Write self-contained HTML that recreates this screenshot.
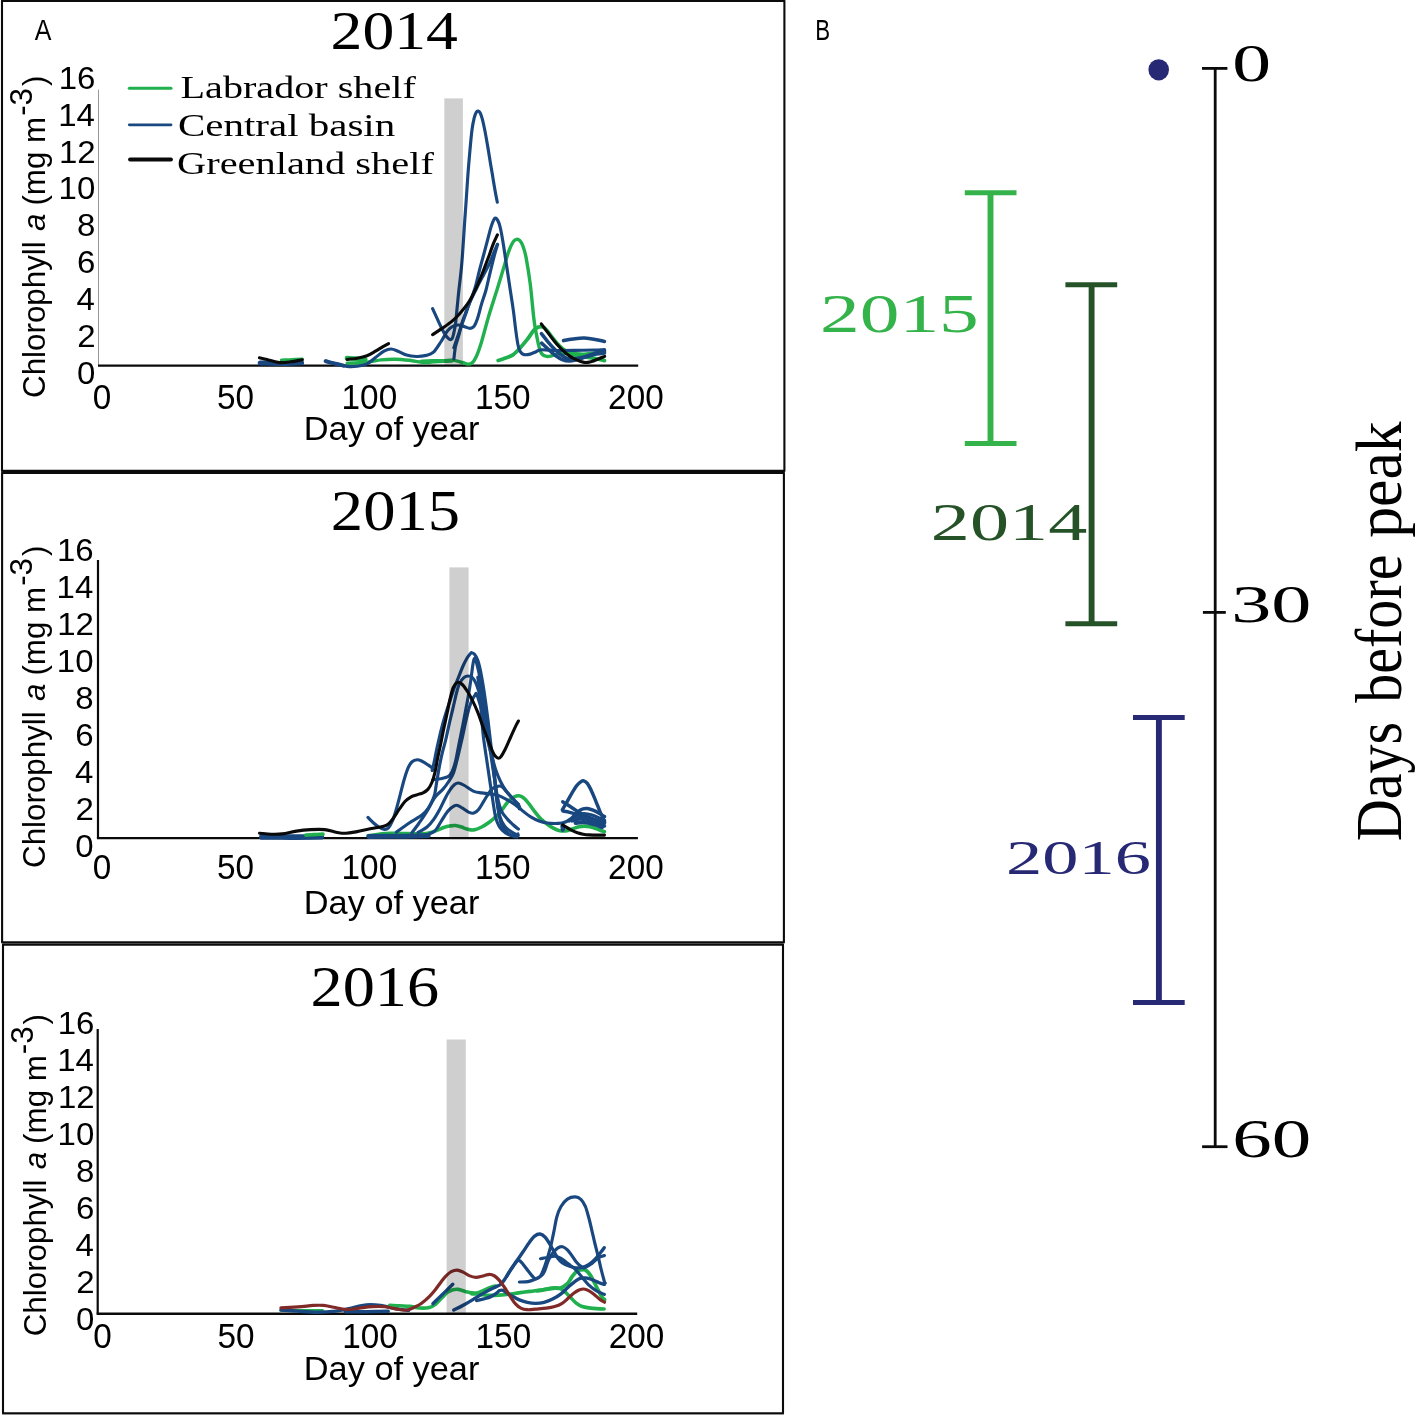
<!DOCTYPE html>
<html><head><meta charset="utf-8"><title>Figure</title>
<style>
html,body{margin:0;padding:0;background:#fff;}
body{width:1417px;height:1415px;overflow:hidden;font-family:"Liberation Sans",sans-serif;}
svg{display:block;position:absolute;left:0;top:0;will-change:transform;}
</style></head><body>
<svg width="1417" height="1415" viewBox="0 0 1417 1415">
<rect x="0" y="0" width="1417" height="1415" fill="#fff"/>
<g fill="none" stroke="#0b0b0b" stroke-width="2.1" stroke-linejoin="round">
<rect x="2.0" y="0.9" width="782.4" height="470.0"/>
<rect x="2.1" y="472.9" width="781.8" height="469.5"/>
<rect x="3.0" y="944.6" width="780.0" height="468.69999999999993"/>
</g>
<rect x="2" y="1414.3" width="782" height="0.7" fill="#808080"/>
<!-- panel 2014 -->
<g>
<line x1="98.5" y1="89.6" x2="98.5" y2="365.6" stroke="#979797" stroke-width="1.0"/>
<line x1="98.0" y1="365.6" x2="638.2" y2="365.6" stroke="#0a0a0a" stroke-width="2.4"/>
<path d="M260.2,362.9C263.5,362.9 273.1,363.4 280.0,363.4C286.9,363.4 298.0,362.8 301.6,362.7" fill="none" stroke="#19477f" stroke-width="5.0" stroke-linecap="round" stroke-linejoin="round"/>
<path d="M281.4,360.1C283.2,360.0 288.5,359.8 292.0,359.6C295.5,359.4 300.6,359.2 302.3,359.1" fill="none" stroke="#21b04e" stroke-width="3.2" stroke-linecap="round" stroke-linejoin="round"/>
<path d="M259.4,357.8C260.9,358.1 264.9,359.1 268.2,359.9C271.5,360.7 275.7,362.3 279.5,362.6C283.3,362.9 287.0,362.3 290.8,361.8C294.6,361.3 300.4,360.1 302.3,359.8" fill="none" stroke="#0a0a0a" stroke-width="3.1" stroke-linecap="round" stroke-linejoin="round"/>
<path d="M346.9,358.1C348.5,358.2 352.9,358.4 356.0,358.6C359.1,358.8 363.7,359.2 365.3,359.3" fill="none" stroke="#21b04e" stroke-width="4.6" stroke-linecap="round" stroke-linejoin="round"/>
<path d="M347.2,363.1C350.5,363.0 361.3,362.7 367.0,362.2C372.7,361.7 376.4,360.4 381.1,359.9C385.8,359.4 390.6,359.1 395.3,359.2C400.0,359.3 404.7,359.8 409.4,360.3C414.1,360.9 419.7,362.2 423.5,362.5C427.3,362.8 428.5,362.1 432.0,361.8C435.5,361.6 440.8,361.2 444.4,361.0C448.0,360.8 450.9,360.1 453.9,360.4C456.9,360.6 460.1,361.9 462.4,362.5C464.7,363.1 466.1,364.0 467.7,364.1C469.3,364.2 470.5,364.3 471.9,363.1C473.3,361.9 474.6,360.2 476.2,356.7C477.8,353.2 479.4,348.8 481.5,341.9C483.6,335.0 486.4,323.7 488.9,315.4C491.4,307.1 493.8,300.1 496.3,292.1C498.8,284.2 501.6,274.6 503.7,267.7C505.8,260.8 507.4,255.0 509.0,250.7C510.6,246.3 512.0,243.5 513.3,241.6C514.5,239.7 515.4,239.5 516.5,239.3C517.6,239.1 518.7,239.4 519.7,240.4C520.7,241.4 521.7,242.7 522.7,245.5C523.8,248.3 524.8,250.8 526.0,257.1C527.2,263.5 528.9,273.4 530.2,283.6C531.5,293.8 532.8,309.8 533.8,318.3C534.8,326.9 535.6,330.0 536.5,334.9C537.4,339.8 538.4,344.5 539.3,347.7C540.2,350.9 540.8,352.7 542.0,354.1C543.2,355.6 545.1,356.1 546.6,356.4C548.1,356.7 549.2,356.4 551.2,356.0C553.2,355.6 555.4,354.2 558.5,353.8C561.6,353.4 565.7,353.3 570.0,353.4C574.3,353.4 579.4,354.3 584.2,354.1C589.0,353.9 595.6,352.7 599.0,352.3C602.4,351.9 603.6,352.0 604.5,351.9" fill="none" stroke="#21b04e" stroke-width="3.4" stroke-linecap="round" stroke-linejoin="round"/>
<path d="M421.6,361.5C423.3,361.5 428.3,361.3 432.0,361.2C435.7,361.1 440.6,361.1 444.0,361.0C447.4,360.9 451.0,360.6 452.4,360.5" fill="none" stroke="#21b04e" stroke-width="4.2" stroke-linecap="round" stroke-linejoin="round"/>
<path d="M498.2,360.5C499.3,360.2 502.3,359.3 504.8,358.3C507.3,357.3 510.6,356.5 513.3,354.6C515.9,352.8 518.4,349.7 520.7,347.2C523.0,344.7 525.1,342.2 527.3,339.4C529.5,336.6 532.0,332.4 533.8,330.3C535.6,328.2 536.6,327.6 538.3,327.1C540.0,326.6 541.9,326.2 543.9,327.5C545.9,328.8 548.2,332.3 550.3,334.9C552.4,337.5 554.7,340.8 556.7,343.1C558.7,345.4 560.1,346.9 562.2,348.6C564.3,350.3 566.6,352.0 569.5,353.2C572.4,354.4 575.9,355.2 579.6,356.0C583.3,356.8 588.1,357.2 591.6,357.8C595.1,358.4 598.6,359.1 600.7,359.6C602.8,360.1 603.8,360.4 604.4,360.6" fill="none" stroke="#21b04e" stroke-width="3.8" stroke-linecap="round" stroke-linejoin="round"/>
<path d="M325.2,361.1C327.0,361.6 332.3,363.0 336.0,363.9C339.7,364.8 343.8,366.0 347.3,366.4C350.8,366.8 353.9,366.6 357.2,366.2C360.5,365.8 363.9,365.3 367.0,363.9C370.1,362.4 372.7,359.6 375.5,357.5C378.3,355.4 381.4,352.6 384.0,351.2C386.6,349.8 388.6,349.0 391.0,349.0C393.4,349.0 395.5,350.2 398.1,351.2C400.7,352.2 403.4,354.2 406.5,355.1C409.6,356.0 413.1,356.4 416.4,356.5C419.7,356.6 423.4,356.1 426.3,355.4C429.2,354.7 431.1,354.4 433.5,352.2C435.9,350.0 438.4,345.6 440.8,342.0C443.2,338.4 445.5,333.3 447.6,330.7C449.7,328.1 451.4,327.1 453.3,326.2C455.2,325.2 457.0,324.9 458.9,325.0C460.8,325.1 462.7,326.1 464.6,326.7C466.5,327.3 468.6,328.5 470.2,328.4C471.8,328.3 473.0,327.9 474.2,326.2C475.4,324.5 476.4,322.0 477.6,318.3C478.8,314.6 480.1,308.8 481.5,304.1C482.9,299.4 484.6,295.2 486.0,290.0C487.4,284.8 488.6,278.7 490.0,273.0C491.4,267.3 492.9,260.8 494.2,256.0C495.5,251.2 497.0,246.4 497.6,244.4" fill="none" stroke="#19477f" stroke-width="3.15" stroke-linecap="round" stroke-linejoin="round"/>
<path d="M325.9,361.3C327.2,361.6 331.1,362.7 334.0,363.4C336.9,364.1 341.9,365.2 343.5,365.6" fill="none" stroke="#19477f" stroke-width="4.0" stroke-linecap="round" stroke-linejoin="round"/>
<path d="M432.6,308.6C433.7,311.0 437.1,318.5 439.1,322.8C441.1,327.1 443.1,331.4 444.8,334.1C446.5,336.8 448.1,338.4 449.3,339.2C450.5,339.9 451.4,339.6 452.1,338.6C452.9,337.6 453.2,335.4 453.8,333.0C454.4,330.6 454.9,328.2 455.5,323.9C456.1,319.6 456.6,312.6 457.2,307.0C457.8,301.4 458.1,297.4 458.9,290.0C459.7,282.6 460.9,274.1 461.9,262.4C462.9,250.7 464.1,230.0 464.8,219.9C465.5,209.8 465.6,209.0 466.1,201.7C466.6,194.4 467.2,184.8 467.8,176.3C468.4,167.8 469.2,158.6 469.9,150.8C470.6,143.0 471.3,135.2 472.0,129.7C472.7,124.2 473.5,120.7 474.2,117.8C474.9,114.9 475.7,113.4 476.3,112.3C476.9,111.2 477.4,110.9 478.0,111.0C478.6,111.1 479.4,111.4 480.1,112.7C480.8,114.0 481.4,115.8 482.2,118.6C483.0,121.4 483.8,125.4 484.7,129.7C485.6,133.9 486.4,139.2 487.3,144.1C488.2,149.0 489.0,154.2 489.8,159.3C490.6,164.4 491.5,169.5 492.4,174.6C493.2,179.7 494.1,185.2 494.9,189.8C495.7,194.4 496.9,200.2 497.3,202.2" fill="none" stroke="#19477f" stroke-width="3.15" stroke-linecap="round" stroke-linejoin="round"/>
<path d="M453.9,358.9C454.2,356.8 454.7,350.5 455.5,346.5C456.3,342.5 457.9,339.0 458.9,335.2C459.9,331.4 460.6,327.7 461.7,323.9C462.8,320.1 464.3,316.4 465.7,312.6C467.1,308.8 468.6,305.4 470.2,301.3C471.8,297.2 473.6,292.9 475.1,287.8C476.6,282.7 477.9,276.4 479.3,270.9C480.7,265.4 482.2,260.3 483.6,255.0C485.0,249.7 486.5,244.0 487.8,239.1C489.1,234.2 490.4,228.8 491.6,225.3C492.8,221.8 493.9,218.8 495.0,218.2C496.1,217.6 497.3,219.4 498.3,221.5C499.3,223.6 500.0,226.3 500.9,230.5C501.8,234.7 502.7,240.3 503.7,246.5C504.7,252.7 505.8,260.6 506.9,267.7C508.0,274.8 509.0,281.8 510.1,288.9C511.2,296.0 512.3,303.0 513.3,310.1C514.3,317.2 515.1,325.5 515.9,331.3C516.7,337.1 517.3,341.6 518.0,345.0C518.7,348.4 519.1,349.8 520.1,351.4C521.1,353.0 522.2,354.2 523.9,354.6C525.6,355.1 528.1,354.6 530.2,354.1C532.3,353.6 534.7,352.1 536.6,351.4C538.5,350.7 538.5,349.9 541.9,349.8C545.2,349.7 551.2,350.4 556.7,350.5C562.2,350.6 568.6,350.5 575.0,350.4C581.4,350.3 590.1,350.1 595.0,350.0C599.9,349.9 603.0,349.6 604.6,349.6" fill="none" stroke="#19477f" stroke-width="3.15" stroke-linecap="round" stroke-linejoin="round"/>
<path d="M453.9,347.7C454.7,345.2 457.1,338.1 458.9,333.0C460.7,327.9 462.8,322.3 464.6,317.1C466.5,311.9 467.9,306.9 470.0,302.0C472.1,297.1 474.7,292.2 477.0,287.5C479.3,282.8 481.8,278.2 484.0,274.0C486.2,269.8 488.3,266.1 490.0,262.4C491.7,258.7 492.8,255.0 494.0,252.0C495.2,249.0 496.8,245.7 497.4,244.4" fill="none" stroke="#19477f" stroke-width="3.15" stroke-linecap="round" stroke-linejoin="round"/>
<path d="M563.5,340.6C565.1,340.3 569.8,339.4 573.2,339.0C576.6,338.6 580.5,338.0 584.2,338.1C587.9,338.2 591.8,338.8 595.2,339.4C598.6,340.0 602.9,341.1 604.5,341.4" fill="none" stroke="#19477f" stroke-width="3.55" stroke-linecap="round" stroke-linejoin="round"/>
<path d="M541.4,333.7C542.4,334.9 545.3,338.7 547.5,341.3C549.7,343.9 552.6,347.2 554.9,349.5C557.2,351.8 559.2,353.5 561.3,355.0C563.4,356.5 565.4,358.1 567.7,358.7C570.0,359.3 572.2,359.0 575.0,358.7C577.8,358.4 580.8,357.8 584.2,356.9C587.6,356.0 591.8,354.2 595.2,353.2C598.6,352.2 602.9,351.2 604.5,350.8" fill="none" stroke="#19477f" stroke-width="3.55" stroke-linecap="round" stroke-linejoin="round"/>
<path d="M541.6,343.1C542.6,344.0 545.3,346.6 547.5,348.6C549.7,350.6 552.4,353.2 554.9,355.0C557.4,356.8 559.8,358.6 562.2,359.6C564.6,360.6 567.0,361.0 569.5,361.0C572.0,361.0 574.1,360.3 576.9,359.6C579.6,358.9 582.8,357.8 586.0,356.9C589.2,356.0 593.0,354.8 596.1,354.1C599.2,353.4 603.1,353.2 604.5,353.0" fill="none" stroke="#19477f" stroke-width="3.55" stroke-linecap="round" stroke-linejoin="round"/>
<path d="M347.1,359.5C348.8,359.2 353.9,358.8 357.2,358.2C360.5,357.6 363.9,356.9 367.0,355.7C370.1,354.5 372.9,352.7 375.5,351.2C378.1,349.7 380.4,348.2 382.6,346.9C384.8,345.6 387.6,344.1 388.6,343.6" fill="none" stroke="#0a0a0a" stroke-width="3.1" stroke-linecap="round" stroke-linejoin="round"/>
<path d="M432.6,334.7C434.1,333.7 438.8,330.6 442.0,328.4C445.2,326.2 449.0,323.7 451.8,321.4C454.6,319.1 456.4,317.4 459.0,314.5C461.6,311.6 465.4,306.9 467.7,303.7C469.9,300.5 470.9,298.5 472.5,295.5C474.1,292.5 475.7,289.0 477.2,285.7C478.7,282.4 480.1,279.0 481.5,275.5C482.9,272.0 484.4,268.0 485.7,264.5C487.0,261.0 488.3,257.9 489.5,254.5C490.7,251.2 491.8,247.7 493.1,244.4C494.4,241.1 496.7,236.5 497.4,234.9" fill="none" stroke="#0a0a0a" stroke-width="3.1" stroke-linecap="round" stroke-linejoin="round"/>
<path d="M541.3,323.8C542.3,325.2 544.9,328.7 547.5,332.1C550.1,335.5 553.6,340.5 556.7,344.0C559.8,347.5 562.9,350.7 565.9,353.2C568.9,355.7 572.0,357.7 575.0,359.2C578.0,360.7 581.4,362.0 584.2,362.4C587.0,362.8 589.2,362.1 591.6,361.5C594.0,360.9 596.7,359.5 598.9,358.7C601.1,357.9 603.7,356.8 604.7,356.4" fill="none" stroke="#0a0a0a" stroke-width="3.1" stroke-linecap="round" stroke-linejoin="round"/>
<rect x="444.3" y="98.4" width="18.6" height="267.2" fill="#000" fill-opacity="0.19"/>
<text transform="translate(330.59,49.45) scale(1.1642,1)" font-family='"Liberation Serif", serif' font-size="54.68" fill="#000">2014</text>
<text transform="translate(76.94,384.20) scale(1.0450,1)" font-family='"Liberation Sans", sans-serif' font-size="31.60" fill="#000">0</text>
<text transform="translate(77.27,347.25) scale(1.0450,1)" font-family='"Liberation Sans", sans-serif' font-size="31.60" fill="#000">2</text>
<text transform="translate(76.61,310.30) scale(1.0450,1)" font-family='"Liberation Sans", sans-serif' font-size="31.60" fill="#000">4</text>
<text transform="translate(77.05,273.35) scale(1.0450,1)" font-family='"Liberation Sans", sans-serif' font-size="31.60" fill="#000">6</text>
<text transform="translate(77.05,236.40) scale(1.0450,1)" font-family='"Liberation Sans", sans-serif' font-size="31.60" fill="#000">8</text>
<text transform="translate(58.56,199.45) scale(1.0450,1)" font-family='"Liberation Sans", sans-serif' font-size="31.60" fill="#000">10</text>
<text transform="translate(58.89,162.50) scale(1.0450,1)" font-family='"Liberation Sans", sans-serif' font-size="31.60" fill="#000">12</text>
<text transform="translate(58.23,125.55) scale(1.0450,1)" font-family='"Liberation Sans", sans-serif' font-size="31.60" fill="#000">14</text>
<text transform="translate(58.67,88.60) scale(1.0450,1)" font-family='"Liberation Sans", sans-serif' font-size="31.60" fill="#000">16</text>
<text transform="translate(92.67,408.80) scale(0.9750,1)" font-family='"Liberation Sans", sans-serif' font-size="34.20" fill="#000">0</text>
<text transform="translate(216.89,408.80) scale(0.9750,1)" font-family='"Liberation Sans", sans-serif' font-size="34.20" fill="#000">50</text>
<text transform="translate(341.55,408.80) scale(0.9750,1)" font-family='"Liberation Sans", sans-serif' font-size="34.20" fill="#000">100</text>
<text transform="translate(474.95,408.80) scale(0.9750,1)" font-family='"Liberation Sans", sans-serif' font-size="34.20" fill="#000">150</text>
<text transform="translate(608.09,408.80) scale(0.9750,1)" font-family='"Liberation Sans", sans-serif' font-size="34.20" fill="#000">200</text>
<text transform="translate(303.79,440.18) scale(1.0338,1)" font-family='"Liberation Sans", sans-serif' font-size="33.23" fill="#000">Day of year</text>
<text transform="translate(45.10,397.97) rotate(-90) scale(0.9900,1)" font-family='"Liberation Sans", sans-serif' font-size="31.65" fill="#000">Chlorophyll</text>
<text transform="translate(45.10,231.03) rotate(-90) scale(0.9900,1)" font-family='"Liberation Sans", sans-serif' font-size="31.65" font-style="italic" fill="#000">a</text>
<text transform="translate(45.10,205.58) rotate(-90) scale(0.9900,1)" font-family='"Liberation Sans", sans-serif' font-size="31.65" fill="#000">(mg m</text>
<text transform="translate(32.20,115.86) rotate(-90) scale(0.9900,1)" font-family='"Liberation Sans", sans-serif' font-size="31.65" fill="#000">-</text>
<text transform="translate(32.20,105.45) rotate(-90) scale(0.9900,1)" font-family='"Liberation Sans", sans-serif' font-size="31.65" fill="#000">3</text>
<text transform="translate(45.10,86.11) rotate(-90) scale(0.9900,1)" font-family='"Liberation Sans", sans-serif' font-size="31.65" fill="#000">)</text>
</g>
<!-- panel 2015 -->
<g>
<line x1="98.0" y1="559.9" x2="98.0" y2="838.1" stroke="#0a0a0a" stroke-width="2.2"/>
<line x1="96.9" y1="838.1" x2="637.9" y2="838.1" stroke="#0a0a0a" stroke-width="2.4"/>
<path d="M368.1,835.8C371.6,835.4 380.9,833.7 389.4,833.4C397.9,833.1 412.5,834.0 419.1,833.9C425.7,833.8 425.9,833.5 428.9,832.9C431.8,832.3 434.3,831.3 436.8,830.4C439.3,829.5 441.7,828.2 443.8,827.5C445.9,826.8 447.7,826.3 449.7,826.0C451.7,825.7 453.6,825.3 455.6,825.5C457.6,825.7 459.6,826.4 461.5,827.0C463.4,827.6 464.8,828.4 466.9,828.9C468.9,829.4 471.3,830.2 473.8,829.9C476.3,829.6 479.1,828.3 481.7,827.0C484.3,825.7 487.1,823.8 489.6,822.0C492.1,820.2 494.5,818.2 496.6,816.1C498.8,814.0 500.5,811.7 502.5,809.2C504.5,806.7 506.4,803.4 508.4,801.3C510.4,799.2 512.5,797.7 514.3,796.8C516.1,795.9 517.6,795.5 519.3,795.8C520.9,796.0 522.6,796.9 524.2,798.3C525.9,799.7 527.4,801.9 529.2,804.2C531.0,806.5 533.1,809.6 535.1,812.1C537.1,814.6 539.0,817.1 541.0,819.1C543.0,821.1 545.0,822.5 547.0,824.0C549.0,825.5 550.9,826.8 552.9,827.9C554.9,829.0 556.7,829.9 558.8,830.4C560.9,830.9 563.3,831.2 565.7,830.9C568.1,830.6 571.0,829.3 573.2,828.6C575.4,827.9 577.0,827.2 578.9,826.8C580.8,826.4 582.6,826.1 584.5,826.1C586.4,826.1 588.3,826.4 590.2,826.8C592.1,827.2 593.9,828.0 595.8,828.6C597.7,829.2 600.1,830.2 601.5,830.7C602.9,831.2 603.9,831.5 604.4,831.7" fill="none" stroke="#21b04e" stroke-width="3.6" stroke-linecap="round" stroke-linejoin="round"/>
<path d="M261.9,836.9C266.6,836.9 280.1,837.1 290.0,837.1C299.9,837.1 316.1,836.8 321.3,836.7" fill="none" stroke="#19477f" stroke-width="5.6" stroke-linecap="round" stroke-linejoin="round"/>
<path d="M368.9,836.4C374.1,836.4 390.1,836.3 400.0,836.2C409.9,836.1 423.4,835.7 428.1,835.6" fill="none" stroke="#19477f" stroke-width="5.0" stroke-linecap="round" stroke-linejoin="round"/>
<path d="M305.9,835.1C307.2,835.0 311.1,834.8 314.0,834.6C316.9,834.4 321.5,834.2 323.0,834.1" fill="none" stroke="#21b04e" stroke-width="3.6" stroke-linecap="round" stroke-linejoin="round"/>
<path d="M368.0,817.4C369.0,818.4 371.7,821.3 373.6,823.0C375.5,824.7 377.7,826.4 379.5,827.5C381.3,828.6 383.0,829.3 384.5,829.4C386.0,829.5 387.1,829.3 388.4,827.9C389.7,826.5 391.1,824.1 392.4,821.0C393.7,817.9 395.0,813.7 396.3,809.2C397.6,804.8 399.0,799.2 400.3,794.3C401.6,789.3 402.9,783.9 404.2,779.5C405.5,775.1 406.9,770.7 408.2,767.7C409.5,764.7 410.6,763.0 412.1,761.7C413.6,760.4 415.5,759.9 417.1,759.8C418.8,759.7 420.4,760.5 422.0,761.2C423.6,761.9 425.4,763.1 427.0,764.2C428.6,765.3 431.0,766.7 431.9,767.7C432.8,768.7 432.2,770.0 432.2,770.4" fill="none" stroke="#19477f" stroke-width="3.15" stroke-linecap="round" stroke-linejoin="round"/>
<path d="M432.4,770.2C432.7,768.8 433.4,765.9 434.2,761.9C435.0,757.9 436.3,751.0 437.4,746.0C438.5,741.0 439.6,736.5 440.6,732.2C441.7,728.0 442.6,724.2 443.7,720.5C444.8,716.8 445.8,713.2 446.9,709.9C448.0,706.5 448.9,704.1 450.1,700.4C451.3,696.7 452.9,691.6 454.3,687.7C455.7,683.8 457.2,680.6 458.6,677.1C460.0,673.6 461.4,669.7 462.8,666.5C464.2,663.3 465.9,660.1 467.1,658.0C468.3,655.9 469.4,654.7 470.2,653.8C471.0,652.9 471.1,652.6 471.8,652.7C472.5,652.8 473.5,653.1 474.5,654.3C475.5,655.5 476.8,657.9 477.7,660.1C478.6,662.3 479.1,664.6 479.8,667.6C480.5,670.6 481.2,674.3 481.9,678.2C482.6,682.1 483.3,686.3 484.0,690.9C484.7,695.5 485.4,700.4 486.1,705.7C486.8,711.0 487.6,716.9 488.3,722.7C489.0,728.5 489.7,734.5 490.4,740.7C491.1,746.9 491.8,753.3 492.6,759.8C493.4,766.3 494.3,772.9 495.0,779.5C495.7,786.1 496.2,793.0 497.0,799.3C497.8,805.6 498.6,812.5 499.5,817.1C500.4,821.7 501.2,824.4 502.5,827.0C503.8,829.6 505.7,831.4 507.5,832.9C509.3,834.4 511.8,835.6 513.4,836.3C515.0,837.0 516.5,836.9 517.1,837.1" fill="none" stroke="#19477f" stroke-width="3.15" stroke-linecap="round" stroke-linejoin="round"/>
<path d="M432.8,779.8C434.1,779.6 438.1,779.3 440.6,778.8C443.1,778.3 446.1,777.9 448.0,776.7C449.9,775.5 451.0,773.9 452.2,771.4C453.4,768.9 454.3,766.1 455.4,761.9C456.5,757.7 457.5,751.3 458.6,746.0C459.7,740.7 460.8,735.4 461.8,730.1C462.9,724.8 463.8,719.7 464.9,714.2C465.9,708.7 467.1,702.9 468.1,697.2C469.1,691.6 470.0,685.8 470.8,680.3C471.6,674.8 472.3,668.0 472.9,664.4C473.5,660.8 473.8,659.0 474.3,658.5C474.8,658.0 475.4,659.0 476.1,661.2C476.8,663.4 477.8,667.5 478.7,671.8C479.6,676.1 480.4,681.7 481.3,687.0C482.2,692.3 483.0,697.3 484.0,703.6C485.0,709.9 486.1,717.7 487.2,724.8C488.3,731.9 489.5,740.0 490.4,746.0C491.3,752.0 491.9,755.4 492.6,761.0C493.3,766.6 493.9,773.1 494.6,779.5C495.3,785.9 495.8,793.4 496.6,799.3C497.4,805.2 498.2,810.6 499.5,815.1C500.8,819.6 502.5,823.2 504.5,826.0C506.5,828.8 509.1,830.3 511.4,831.9C513.7,833.5 517.1,834.8 518.2,835.4" fill="none" stroke="#19477f" stroke-width="3.15" stroke-linecap="round" stroke-linejoin="round"/>
<path d="M396.3,832.2C398.4,830.7 404.9,825.9 409.2,823.0C413.5,820.1 418.7,817.7 422.0,815.1C425.3,812.5 427.1,809.8 428.9,807.2C430.7,804.6 431.9,801.6 432.9,799.3C433.9,797.0 434.2,796.4 434.9,793.4C435.5,790.4 436.1,785.5 436.8,781.5C437.5,777.5 438.0,774.1 438.8,769.6C439.6,765.1 440.7,759.7 441.8,754.8C442.9,749.9 444.5,745.0 445.7,740.0C446.9,735.0 447.8,730.0 449.0,724.8C450.2,719.6 451.6,714.2 452.8,708.9C454.1,703.6 455.4,697.2 456.5,693.0C457.6,688.8 458.4,686.0 459.6,683.4C460.8,680.8 462.5,678.8 463.9,677.6C465.3,676.4 466.7,676.0 468.1,676.0C469.5,676.0 471.2,676.5 472.4,677.6C473.6,678.7 474.4,680.2 475.5,682.4C476.6,684.6 477.8,688.1 478.7,690.9C479.6,693.7 480.0,695.8 480.8,699.3C481.6,702.8 482.5,707.8 483.4,712.0C484.3,716.2 485.2,720.1 486.1,724.8C487.0,729.5 487.8,734.2 488.7,740.0C489.6,745.8 490.6,753.2 491.6,759.8C492.6,766.4 493.6,773.2 494.6,779.5C495.6,785.8 496.4,792.0 497.5,797.3C498.6,802.6 499.9,807.5 501.5,811.1C503.1,814.7 505.4,816.8 507.4,819.1C509.4,821.4 511.6,823.3 513.4,825.0C515.2,826.7 517.5,828.4 518.4,829.1" fill="none" stroke="#19477f" stroke-width="3.15" stroke-linecap="round" stroke-linejoin="round"/>
<path d="M411.8,832.9C413.0,831.3 416.6,826.6 419.1,823.0C421.6,819.4 424.4,815.4 427.0,811.1C429.6,806.8 432.3,800.9 434.9,797.3C437.5,793.7 440.5,792.0 442.8,789.4C445.1,786.8 446.9,784.3 448.7,781.5C450.5,778.7 452.1,776.6 453.6,772.6C455.1,768.6 456.4,762.4 457.6,757.8C458.8,753.2 459.7,748.6 460.6,744.9C461.5,741.2 461.9,739.5 462.8,735.4C463.7,731.3 464.9,725.1 466.0,720.5C467.1,715.9 468.1,711.3 469.2,707.8C470.3,704.3 471.4,701.4 472.4,699.3C473.4,697.2 474.3,696.0 475.0,695.1C475.7,694.2 475.8,692.6 476.6,694.0C477.4,695.4 478.7,699.9 479.8,703.6C480.9,707.3 481.9,710.9 483.0,716.0C484.1,721.1 485.5,729.0 486.5,734.0C487.5,739.0 488.1,742.5 489.0,746.0C489.9,749.5 490.5,750.9 491.6,754.8C492.7,758.7 494.1,765.1 495.6,769.6C497.1,774.1 498.7,777.9 500.5,781.5C502.3,785.1 504.2,788.4 506.4,791.4C508.5,794.4 511.4,797.1 513.4,799.3C515.4,801.5 517.6,803.5 518.5,804.4" fill="none" stroke="#19477f" stroke-width="3.15" stroke-linecap="round" stroke-linejoin="round"/>
<path d="M418.1,832.3C419.6,831.4 424.4,829.2 427.0,827.0C429.6,824.8 431.8,822.1 433.9,819.1C436.0,816.1 438.0,812.5 439.8,809.2C441.6,805.9 443.1,802.4 444.7,799.3C446.3,796.2 448.0,792.9 449.7,790.4C451.4,787.9 453.1,785.7 454.6,784.5C456.1,783.3 457.0,782.8 458.6,783.0C460.2,783.2 462.0,784.1 464.5,785.5C467.0,786.9 470.9,790.2 473.8,791.4C476.7,792.6 479.1,792.5 481.7,792.9C484.3,793.3 487.0,793.5 489.6,793.9C492.2,794.3 495.0,794.6 497.5,795.3C500.0,796.0 502.2,797.1 504.5,798.3C506.8,799.5 509.1,800.8 511.4,802.3C513.7,803.8 516.2,805.6 518.3,807.2C520.4,808.8 522.1,810.5 524.2,812.1C526.3,813.8 528.6,815.6 531.1,817.1C533.6,818.6 536.5,820.0 539.1,821.0C541.8,822.0 544.4,822.6 547.0,823.0C549.6,823.4 552.4,823.5 554.9,823.5C557.4,823.5 559.8,823.3 561.8,823.0C563.8,822.7 565.0,822.3 566.7,821.5C568.4,820.7 570.1,819.0 571.8,818.0C573.5,817.0 574.8,816.0 576.8,815.2C578.8,814.5 581.5,813.5 584.0,813.5C586.5,813.5 589.5,814.2 592.0,815.0C594.5,815.8 596.9,817.1 599.0,818.0C601.1,818.9 603.7,820.1 604.6,820.5" fill="none" stroke="#19477f" stroke-width="3.15" stroke-linecap="round" stroke-linejoin="round"/>
<path d="M428.1,834.4C429.2,833.8 432.8,833.0 434.9,830.9C437.0,828.8 439.0,824.8 440.8,822.0C442.6,819.2 444.1,816.4 445.7,814.1C447.3,811.8 448.9,809.7 450.7,808.2C452.5,806.7 454.6,805.2 456.6,805.2C458.6,805.2 460.5,807.1 462.5,808.2C464.5,809.4 466.6,811.3 468.5,812.1C470.4,812.9 472.1,813.6 473.8,813.1C475.5,812.6 477.2,811.2 478.8,809.2C480.4,807.2 482.1,803.9 483.7,801.3C485.3,798.7 487.2,795.5 488.7,793.4C490.2,791.2 491.1,789.6 492.6,788.4C494.1,787.2 496.0,786.7 497.5,786.4C499.0,786.1 500.0,785.6 501.5,786.4C503.0,787.2 504.6,789.4 506.4,791.4C508.2,793.4 510.2,795.8 512.4,798.3C514.5,800.8 518.1,804.4 519.3,806.2C520.4,808.0 519.3,808.4 519.3,808.8" fill="none" stroke="#19477f" stroke-width="3.15" stroke-linecap="round" stroke-linejoin="round"/>
<path d="M477.8,677.2C478.1,679.3 479.0,684.2 479.6,690.0C480.2,695.8 480.7,704.5 481.3,712.0C481.9,719.5 482.3,727.0 483.2,735.0C484.1,743.0 485.6,752.4 486.7,759.8C487.8,767.2 488.6,772.9 489.6,779.5C490.6,786.1 491.6,793.0 492.6,799.3C493.6,805.6 494.5,812.5 495.6,817.1C496.8,821.7 497.9,824.4 499.5,827.0C501.1,829.6 503.2,831.4 505.5,832.9C507.8,834.4 511.3,835.6 513.4,835.8C515.5,836.0 517.1,834.3 517.9,834.0" fill="none" stroke="#19477f" stroke-width="3.15" stroke-linecap="round" stroke-linejoin="round"/>
<path d="M562.3,809.8C562.9,808.7 564.6,805.9 566.2,803.2C567.8,800.5 570.0,796.2 571.8,793.3C573.6,790.3 575.3,787.5 576.8,785.5C578.3,783.5 579.8,782.4 581.0,781.6C582.2,780.8 582.8,780.6 583.8,780.9C584.8,781.2 586.0,781.7 587.3,783.4C588.6,785.1 590.2,788.2 591.6,791.2C593.0,794.2 594.4,797.7 595.8,801.1C597.2,804.5 598.7,808.6 600.0,811.6C601.3,814.6 602.8,817.6 603.6,819.4C604.4,821.2 604.4,821.7 604.6,822.2" fill="none" stroke="#19477f" stroke-width="3.4499999999999997" stroke-linecap="round" stroke-linejoin="round"/>
<path d="M562.7,801.8C563.6,802.4 566.0,803.8 568.3,805.3C570.6,806.8 574.1,809.2 576.8,810.9C579.5,812.5 581.6,813.8 584.5,815.2C587.4,816.6 591.1,818.1 594.4,819.4C597.7,820.7 602.8,822.5 604.5,823.1" fill="none" stroke="#19477f" stroke-width="3.4499999999999997" stroke-linecap="round" stroke-linejoin="round"/>
<path d="M562.9,811.1C564.0,811.3 567.4,811.7 569.7,812.3C572.0,812.9 574.1,813.5 576.8,814.5C579.5,815.5 582.8,817.2 586.0,818.5C589.2,819.8 592.9,821.2 596.0,822.5C599.1,823.8 603.1,825.4 604.5,826.0" fill="none" stroke="#19477f" stroke-width="3.4499999999999997" stroke-linecap="round" stroke-linejoin="round"/>
<path d="M569.2,820.9C570.1,819.9 573.0,816.9 574.6,815.2C576.2,813.5 577.5,812.0 578.9,810.9C580.3,809.8 581.7,809.2 583.1,808.8C584.5,808.4 585.6,808.3 587.3,808.5C588.9,808.7 591.1,809.5 593.0,810.2C594.9,811.0 596.7,811.9 598.6,813.0C600.5,814.1 603.6,816.0 604.6,816.6" fill="none" stroke="#19477f" stroke-width="3.4499999999999997" stroke-linecap="round" stroke-linejoin="round"/>
<path d="M572.1,820.4C573.4,820.0 577.0,818.4 580.0,818.2C583.0,818.0 587.0,818.7 590.0,819.4C593.0,820.1 596.0,821.4 598.0,822.2C600.0,823.0 601.4,823.7 602.1,823.9" fill="none" stroke="#19477f" stroke-width="4.4" stroke-linecap="round" stroke-linejoin="round"/>
<path d="M575.6,822.9C577.0,822.8 580.9,822.0 584.0,822.2C587.1,822.4 591.0,823.4 594.0,824.2C597.0,825.0 600.7,826.6 602.1,827.1" fill="none" stroke="#19477f" stroke-width="4.2" stroke-linecap="round" stroke-linejoin="round"/>
<path d="M562.0,825.9C562.1,826.6 562.3,829.8 562.6,830.2C562.9,830.6 563.5,828.6 563.7,828.3" fill="none" stroke="#19477f" stroke-width="3.4" stroke-linecap="round" stroke-linejoin="round"/>
<path d="M259.5,833.3C261.4,833.4 267.3,834.1 271.1,834.2C274.9,834.3 278.1,834.4 282.3,833.9C286.5,833.4 291.8,831.8 296.5,831.1C301.2,830.4 305.9,829.9 310.6,829.6C315.3,829.4 320.5,829.2 324.7,829.6C328.9,830.0 332.5,831.6 336.0,832.2C339.5,832.8 342.4,833.4 345.9,833.3C349.4,833.2 353.6,832.2 357.1,831.6C360.6,831.0 364.1,830.0 367.0,829.4C369.9,828.8 372.0,828.5 374.6,828.0C377.2,827.5 380.2,827.3 382.5,826.6C384.8,825.9 386.6,825.4 388.4,824.0C390.2,822.6 391.6,820.6 393.4,818.1C395.2,815.6 397.3,812.0 399.3,809.2C401.3,806.4 403.2,803.4 405.2,801.3C407.2,799.2 409.1,797.9 411.1,796.8C413.1,795.7 415.1,795.4 417.1,794.8C419.1,794.1 421.2,793.8 423.0,792.9C424.8,792.0 426.4,791.1 427.9,789.4C429.4,787.7 430.7,785.3 431.9,782.5C433.1,779.7 434.0,776.4 434.9,772.6C435.8,768.8 436.4,764.5 437.3,759.8C438.2,755.1 439.5,749.6 440.6,744.5C441.7,739.4 442.6,734.0 443.7,729.0C444.8,724.0 445.8,719.3 446.9,714.2C448.0,709.1 449.0,703.1 450.1,698.6C451.2,694.1 452.1,690.1 453.3,687.4C454.5,684.7 456.1,683.0 457.5,682.4C458.9,681.8 460.2,682.6 461.8,684.0C463.4,685.4 465.3,688.2 467.1,690.9C468.9,693.6 470.6,696.9 472.4,700.4C474.2,703.9 475.9,707.7 477.7,712.1C479.5,716.5 481.2,722.1 483.0,726.9C484.8,731.7 486.7,736.6 488.3,740.7C489.9,744.8 491.3,748.6 492.5,751.3C493.7,753.9 494.7,755.5 495.7,756.6C496.7,757.8 497.4,758.2 498.3,758.2C499.2,758.2 499.9,758.1 501.0,756.6C502.1,755.1 503.6,752.4 505.2,749.2C506.8,746.0 508.7,741.4 510.5,737.5C512.3,733.6 514.5,728.5 515.8,725.8C517.1,723.1 518.0,721.8 518.4,721.0" fill="none" stroke="#0a0a0a" stroke-width="3.1" stroke-linecap="round" stroke-linejoin="round"/>
<path d="M562.6,824.9C563.2,825.3 564.7,826.3 566.2,827.2C567.7,828.1 569.9,829.4 571.8,830.3C573.7,831.2 575.6,832.1 577.5,832.8C579.4,833.4 581.2,833.9 583.1,834.2C585.0,834.6 586.4,834.8 588.8,834.9C591.1,835.0 594.6,835.1 597.2,835.1C599.8,835.1 603.3,835.1 604.5,835.1" fill="none" stroke="#0a0a0a" stroke-width="3.1" stroke-linecap="round" stroke-linejoin="round"/>
<rect x="449.4" y="567.4" width="19.2" height="270.6" fill="#000" fill-opacity="0.19"/>
<text transform="translate(330.85,529.64) scale(1.1532,1)" font-family='"Liberation Serif", serif' font-size="56.01" fill="#000">2015</text>
<text transform="translate(75.24,856.90) scale(1.0450,1)" font-family='"Liberation Sans", sans-serif' font-size="31.60" fill="#000">0</text>
<text transform="translate(75.57,819.95) scale(1.0450,1)" font-family='"Liberation Sans", sans-serif' font-size="31.60" fill="#000">2</text>
<text transform="translate(74.91,783.00) scale(1.0450,1)" font-family='"Liberation Sans", sans-serif' font-size="31.60" fill="#000">4</text>
<text transform="translate(75.35,746.05) scale(1.0450,1)" font-family='"Liberation Sans", sans-serif' font-size="31.60" fill="#000">6</text>
<text transform="translate(75.35,709.10) scale(1.0450,1)" font-family='"Liberation Sans", sans-serif' font-size="31.60" fill="#000">8</text>
<text transform="translate(56.86,672.15) scale(1.0450,1)" font-family='"Liberation Sans", sans-serif' font-size="31.60" fill="#000">10</text>
<text transform="translate(57.19,635.20) scale(1.0450,1)" font-family='"Liberation Sans", sans-serif' font-size="31.60" fill="#000">12</text>
<text transform="translate(56.53,598.25) scale(1.0450,1)" font-family='"Liberation Sans", sans-serif' font-size="31.60" fill="#000">14</text>
<text transform="translate(56.97,561.30) scale(1.0450,1)" font-family='"Liberation Sans", sans-serif' font-size="31.60" fill="#000">16</text>
<text transform="translate(92.67,878.80) scale(0.9750,1)" font-family='"Liberation Sans", sans-serif' font-size="34.20" fill="#000">0</text>
<text transform="translate(216.89,878.80) scale(0.9750,1)" font-family='"Liberation Sans", sans-serif' font-size="34.20" fill="#000">50</text>
<text transform="translate(341.55,878.80) scale(0.9750,1)" font-family='"Liberation Sans", sans-serif' font-size="34.20" fill="#000">100</text>
<text transform="translate(474.95,878.80) scale(0.9750,1)" font-family='"Liberation Sans", sans-serif' font-size="34.20" fill="#000">150</text>
<text transform="translate(608.09,878.80) scale(0.9750,1)" font-family='"Liberation Sans", sans-serif' font-size="34.20" fill="#000">200</text>
<text transform="translate(303.79,913.88) scale(1.0338,1)" font-family='"Liberation Sans", sans-serif' font-size="33.23" fill="#000">Day of year</text>
<text transform="translate(45.10,867.97) rotate(-90) scale(0.9900,1)" font-family='"Liberation Sans", sans-serif' font-size="31.65" fill="#000">Chlorophyll</text>
<text transform="translate(45.10,701.03) rotate(-90) scale(0.9900,1)" font-family='"Liberation Sans", sans-serif' font-size="31.65" font-style="italic" fill="#000">a</text>
<text transform="translate(45.10,675.58) rotate(-90) scale(0.9900,1)" font-family='"Liberation Sans", sans-serif' font-size="31.65" fill="#000">(mg m</text>
<text transform="translate(32.20,585.86) rotate(-90) scale(0.9900,1)" font-family='"Liberation Sans", sans-serif' font-size="31.65" fill="#000">-</text>
<text transform="translate(32.20,575.45) rotate(-90) scale(0.9900,1)" font-family='"Liberation Sans", sans-serif' font-size="31.65" fill="#000">3</text>
<text transform="translate(45.10,556.11) rotate(-90) scale(0.9900,1)" font-family='"Liberation Sans", sans-serif' font-size="31.65" fill="#000">)</text>
</g>
<!-- panel 2016 -->
<g>
<line x1="97.7" y1="1029.0" x2="97.7" y2="1313.7" stroke="#0a0a0a" stroke-width="2.2"/>
<line x1="96.6" y1="1313.7" x2="637.2" y2="1313.7" stroke="#0a0a0a" stroke-width="2.4"/>
<path d="M280.8,1310.3C284.0,1310.4 293.1,1310.6 300.0,1310.6C306.9,1310.6 318.6,1310.4 322.4,1310.4" fill="none" stroke="#21b04e" stroke-width="3.0" stroke-linecap="round" stroke-linejoin="round"/>
<path d="M281.0,1310.0C283.8,1310.2 292.1,1310.7 298.1,1311.1C304.1,1311.5 310.9,1312.2 317.2,1312.2C323.5,1312.2 330.9,1311.7 336.2,1311.1C341.5,1310.5 344.7,1309.5 348.9,1308.6C353.1,1307.7 358.0,1306.3 361.6,1305.6C365.2,1304.9 367.3,1304.6 370.5,1304.6C373.7,1304.6 377.5,1305.0 380.7,1305.4C383.9,1305.9 386.4,1306.6 389.6,1307.3C392.8,1308.0 396.8,1308.9 400.0,1309.4C403.2,1309.9 407.2,1310.2 408.6,1310.4" fill="none" stroke="#19477f" stroke-width="3.4" stroke-linecap="round" stroke-linejoin="round"/>
<path d="M345.2,1311.6C348.6,1311.6 358.8,1311.8 366.0,1311.7C373.2,1311.6 384.5,1311.3 388.2,1311.2" fill="none" stroke="#19477f" stroke-width="3.6" stroke-linecap="round" stroke-linejoin="round"/>
<path d="M389.7,1305.4C391.4,1305.5 396.5,1305.6 399.9,1305.8C403.3,1306.0 406.5,1306.0 409.8,1306.4C413.1,1306.8 416.3,1307.8 419.6,1308.0C422.9,1308.2 426.9,1308.1 429.5,1307.5C432.1,1306.9 433.5,1305.7 435.5,1304.2C437.5,1302.7 439.4,1300.3 441.4,1298.3C443.4,1296.3 445.5,1293.8 447.3,1292.4C449.1,1291.0 450.5,1290.4 452.3,1289.9C454.1,1289.4 456.1,1289.2 458.2,1289.4C460.3,1289.7 462.8,1290.8 465.1,1291.4C467.4,1292.0 469.7,1292.7 472.0,1292.9C474.3,1293.1 476.6,1293.0 478.9,1292.4C481.2,1291.8 483.6,1290.3 485.8,1289.4C488.0,1288.5 490.2,1287.5 491.8,1286.9C493.4,1286.3 494.8,1286.2 495.4,1286.0" fill="none" stroke="#21b04e" stroke-width="3.6" stroke-linecap="round" stroke-linejoin="round"/>
<path d="M471.4,1293.6C472.8,1293.8 477.1,1294.1 480.0,1294.4C482.9,1294.7 485.7,1295.2 488.8,1295.3C491.9,1295.4 495.4,1295.3 498.7,1295.1C502.0,1294.9 505.3,1294.7 508.6,1294.3C511.9,1293.9 514.9,1293.4 518.5,1292.9C522.1,1292.4 526.3,1291.9 530.0,1291.4C533.7,1290.9 537.3,1290.5 540.9,1290.0C544.5,1289.5 548.3,1288.4 551.5,1288.2C554.7,1288.0 557.7,1287.9 560.0,1288.6C562.3,1289.3 563.5,1290.7 565.3,1292.2C567.1,1293.7 568.8,1295.7 570.6,1297.5C572.4,1299.3 574.0,1301.3 575.9,1302.8C577.8,1304.3 579.7,1305.6 582.2,1306.5C584.7,1307.4 587.0,1307.7 590.7,1308.1C594.4,1308.5 601.9,1308.9 604.1,1309.0" fill="none" stroke="#21b04e" stroke-width="3.6" stroke-linecap="round" stroke-linejoin="round"/>
<path d="M537.4,1290.9C538.9,1290.7 543.1,1289.9 546.0,1289.4C548.9,1288.9 552.5,1288.3 555.0,1288.0C557.5,1287.7 558.9,1288.5 561.0,1287.8C563.1,1287.1 565.6,1285.4 567.4,1283.7C569.2,1282.0 570.2,1279.3 571.6,1277.4C573.0,1275.5 574.5,1273.3 575.9,1272.1C577.3,1270.9 578.5,1270.3 580.1,1270.0C581.7,1269.7 583.8,1269.3 585.4,1270.0C587.0,1270.7 588.2,1272.3 589.6,1274.2C591.0,1276.1 592.5,1278.9 593.9,1281.6C595.3,1284.2 596.7,1287.4 598.1,1290.1C599.5,1292.8 601.2,1295.9 602.3,1297.5C603.4,1299.1 604.1,1299.3 604.5,1299.7" fill="none" stroke="#21b04e" stroke-width="3.8" stroke-linecap="round" stroke-linejoin="round"/>
<path d="M432.9,1303.8C434.6,1302.1 439.7,1297.2 443.0,1293.9C446.3,1290.6 451.2,1285.8 452.8,1284.2" fill="none" stroke="#19477f" stroke-width="3.4" stroke-linecap="round" stroke-linejoin="round"/>
<path d="M453.8,1310.1C455.7,1309.1 461.6,1306.2 465.1,1304.2C468.6,1302.2 471.7,1300.3 475.0,1298.3C478.3,1296.3 481.9,1294.1 484.9,1292.4C487.9,1290.7 490.5,1289.3 492.8,1288.2C495.1,1287.1 497.2,1286.4 498.7,1285.6C500.1,1284.8 500.5,1284.2 501.5,1283.2C502.5,1282.2 503.1,1281.8 504.6,1279.5C506.1,1277.2 508.6,1272.7 510.6,1269.6C512.6,1266.5 514.6,1263.9 516.6,1261.0C518.6,1258.1 520.8,1255.1 522.9,1252.0C525.0,1248.9 527.3,1245.2 529.3,1242.5C531.2,1239.8 532.8,1237.5 534.6,1236.1C536.4,1234.7 538.1,1233.8 539.9,1234.0C541.7,1234.2 543.6,1235.6 545.2,1237.2C546.8,1238.8 548.0,1241.2 549.4,1243.5C550.8,1245.8 552.2,1248.4 553.6,1250.9C555.0,1253.4 556.5,1256.3 557.9,1258.3C559.3,1260.2 560.4,1261.4 562.1,1262.6C563.9,1263.8 566.1,1264.8 568.4,1265.7C570.7,1266.6 573.6,1267.6 575.9,1267.9C578.2,1268.2 580.1,1267.8 582.2,1267.3C584.3,1266.8 586.5,1266.0 588.6,1264.7C590.7,1263.4 593.0,1261.4 594.9,1259.4C596.8,1257.5 598.6,1254.9 600.2,1253.0C601.8,1251.1 603.6,1248.6 604.2,1247.7" fill="none" stroke="#19477f" stroke-width="3.35" stroke-linecap="round" stroke-linejoin="round"/>
<path d="M506.6,1276.6C507.4,1275.4 509.7,1271.7 511.2,1269.4C512.7,1267.1 514.3,1264.5 515.6,1263.0C516.9,1261.5 517.7,1260.2 519.0,1260.4C520.3,1260.6 521.7,1262.6 523.2,1264.4C524.7,1266.2 526.5,1268.8 528.2,1271.0C529.9,1273.2 532.1,1276.1 533.5,1277.4C534.9,1278.7 535.5,1278.9 536.7,1278.6C537.9,1278.2 539.7,1277.1 540.9,1275.3C542.1,1273.5 543.0,1270.7 544.1,1267.9C545.2,1265.1 546.2,1261.7 547.3,1258.3C548.3,1254.9 549.3,1251.9 550.4,1247.7C551.5,1243.5 552.5,1238.0 553.6,1232.9C554.7,1227.8 555.6,1221.4 556.8,1217.0C558.0,1212.6 559.2,1209.5 561.0,1206.5C562.8,1203.5 565.0,1200.7 567.4,1199.1C569.8,1197.5 573.0,1196.8 575.3,1196.9C577.6,1197.0 579.4,1198.0 581.1,1199.6C582.8,1201.2 584.1,1203.6 585.4,1206.5C586.6,1209.4 587.5,1213.1 588.6,1217.0C589.7,1220.9 590.7,1225.4 591.7,1229.8C592.8,1234.2 593.8,1239.1 594.9,1243.5C596.0,1247.9 597.0,1251.8 598.1,1256.2C599.2,1260.6 600.2,1265.8 601.3,1270.0C602.3,1274.2 603.8,1279.4 604.4,1281.6C605.0,1283.8 605.1,1282.8 605.2,1283.0" fill="none" stroke="#19477f" stroke-width="3.15" stroke-linecap="round" stroke-linejoin="round"/>
<path d="M519.4,1282.0C520.9,1282.0 525.5,1282.1 528.2,1281.6C530.9,1281.1 533.4,1280.0 535.6,1279.0C537.8,1278.0 540.0,1276.9 541.5,1275.6C543.0,1274.3 543.5,1273.5 544.6,1271.0C545.7,1268.5 547.0,1263.6 548.3,1260.6C549.6,1257.6 551.1,1255.3 552.6,1253.2C554.1,1251.1 556.1,1249.3 557.4,1248.2C558.7,1247.1 559.5,1247.0 560.4,1246.8C561.3,1246.6 561.8,1246.4 563.0,1246.9C564.2,1247.4 566.0,1248.5 567.4,1249.9C568.8,1251.3 570.2,1253.3 571.6,1255.2C573.0,1257.1 574.5,1259.8 575.9,1261.5C577.3,1263.2 578.7,1264.6 580.1,1265.7C581.5,1266.8 582.4,1268.2 584.3,1267.9C586.2,1267.6 589.2,1265.4 591.7,1263.6C594.2,1261.8 597.0,1258.6 599.1,1257.3C601.2,1256.0 603.5,1255.9 604.4,1255.6" fill="none" stroke="#19477f" stroke-width="3.15" stroke-linecap="round" stroke-linejoin="round"/>
<path d="M540.5,1258.7C541.4,1258.6 543.8,1258.2 546.2,1257.8C548.6,1257.4 552.2,1256.1 554.7,1256.2C557.2,1256.3 559.2,1257.4 561.0,1258.3C562.8,1259.2 563.7,1260.3 565.3,1261.5C566.9,1262.7 568.8,1264.3 570.6,1265.7C572.4,1267.1 574.0,1268.0 575.9,1270.0C577.8,1272.0 580.1,1274.9 582.2,1277.4C584.3,1279.9 586.1,1282.5 588.6,1284.8C591.1,1287.1 594.4,1289.6 597.0,1291.2C599.6,1292.8 603.2,1293.9 604.4,1294.4" fill="none" stroke="#19477f" stroke-width="3.15" stroke-linecap="round" stroke-linejoin="round"/>
<path d="M476.7,1300.5C477.9,1300.2 481.6,1299.6 483.9,1298.9C486.2,1298.2 488.8,1297.5 490.8,1296.6C492.9,1295.7 494.7,1294.4 496.2,1293.4C497.7,1292.4 498.5,1291.1 499.6,1290.6C500.7,1290.1 501.2,1289.7 503.0,1290.4C504.8,1291.1 507.6,1293.5 510.2,1295.0C512.8,1296.5 515.9,1298.4 518.7,1299.6C521.5,1300.8 524.4,1301.7 527.2,1302.3C530.0,1302.9 532.8,1303.3 535.6,1303.3C538.4,1303.3 541.3,1303.0 544.1,1302.3C546.9,1301.6 549.8,1300.5 552.6,1299.1C555.4,1297.7 558.4,1295.8 561.0,1293.8C563.6,1291.8 566.1,1288.9 568.4,1286.9C570.7,1284.9 572.8,1283.0 574.8,1281.6C576.8,1280.2 578.3,1279.0 580.1,1278.4C581.9,1277.8 583.5,1277.7 585.4,1277.9C587.3,1278.1 589.4,1278.7 591.7,1279.5C594.0,1280.3 597.0,1281.9 599.1,1282.7C601.2,1283.5 603.4,1284.1 604.3,1284.4" fill="none" stroke="#19477f" stroke-width="3.35" stroke-linecap="round" stroke-linejoin="round"/>
<path d="M280.9,1307.8C283.8,1307.7 292.7,1307.3 298.1,1306.9C303.5,1306.5 309.2,1305.7 313.4,1305.4C317.6,1305.2 320.1,1305.1 323.5,1305.4C326.9,1305.7 329.9,1306.6 333.7,1307.3C337.5,1308.0 342.2,1309.3 346.4,1309.5C350.6,1309.7 354.9,1308.7 359.1,1308.2C363.3,1307.7 367.6,1307.0 371.8,1306.7C376.0,1306.5 380.7,1306.4 384.5,1306.7C388.3,1307.0 391.1,1308.0 394.7,1308.6C398.3,1309.2 402.7,1310.5 406.1,1310.2C409.5,1309.9 412.4,1308.1 415.0,1306.9C417.6,1305.7 419.2,1305.0 421.6,1303.2C424.0,1301.4 427.2,1298.6 429.5,1296.3C431.8,1294.0 433.5,1291.9 435.5,1289.4C437.5,1286.9 439.6,1283.8 441.4,1281.5C443.2,1279.2 444.6,1277.2 446.3,1275.6C448.0,1273.9 449.5,1272.5 451.3,1271.6C453.1,1270.7 455.2,1270.0 457.2,1270.1C459.2,1270.2 461.1,1271.2 463.1,1272.1C465.1,1273.0 467.0,1274.7 469.1,1275.6C471.2,1276.5 473.7,1277.3 476.0,1277.4C478.3,1277.5 480.6,1276.5 482.9,1276.0C485.1,1275.5 487.6,1274.4 489.5,1274.4C491.4,1274.4 492.9,1275.0 494.6,1276.0C496.3,1277.0 497.9,1278.6 499.6,1280.6C501.3,1282.6 503.1,1285.4 504.9,1288.0C506.7,1290.6 508.4,1293.8 510.2,1296.4C512.0,1299.1 513.7,1302.0 515.5,1303.9C517.3,1305.9 518.8,1307.1 520.8,1308.1C522.8,1309.1 524.7,1309.5 527.2,1309.7C529.7,1309.9 532.4,1309.4 535.6,1309.1C538.8,1308.8 543.0,1308.5 546.2,1308.1C549.4,1307.7 552.1,1307.3 554.7,1306.5C557.4,1305.7 559.8,1304.7 562.1,1303.3C564.4,1301.9 566.5,1299.7 568.4,1298.0C570.3,1296.3 571.9,1294.6 573.7,1293.3C575.5,1292.0 577.3,1290.8 579.0,1290.1C580.7,1289.4 582.2,1288.9 583.8,1289.0C585.4,1289.1 586.9,1289.7 588.6,1290.6C590.3,1291.5 592.0,1292.8 593.9,1294.3C595.8,1295.8 598.4,1298.3 600.2,1299.6C602.0,1300.9 603.7,1301.7 604.5,1302.2" fill="none" stroke="#802a28" stroke-width="3.2" stroke-linecap="round" stroke-linejoin="round"/>
<rect x="446.6" y="1039.5" width="19.2" height="274.1" fill="#000" fill-opacity="0.19"/>
<text transform="translate(310.57,1005.84) scale(1.1472,1)" font-family='"Liberation Serif", serif' font-size="56.01" fill="#000">2016</text>
<text transform="translate(75.94,1329.90) scale(1.0450,1)" font-family='"Liberation Sans", sans-serif' font-size="31.60" fill="#000">0</text>
<text transform="translate(76.27,1292.95) scale(1.0450,1)" font-family='"Liberation Sans", sans-serif' font-size="31.60" fill="#000">2</text>
<text transform="translate(75.61,1256.00) scale(1.0450,1)" font-family='"Liberation Sans", sans-serif' font-size="31.60" fill="#000">4</text>
<text transform="translate(76.05,1219.05) scale(1.0450,1)" font-family='"Liberation Sans", sans-serif' font-size="31.60" fill="#000">6</text>
<text transform="translate(76.05,1182.10) scale(1.0450,1)" font-family='"Liberation Sans", sans-serif' font-size="31.60" fill="#000">8</text>
<text transform="translate(57.56,1145.15) scale(1.0450,1)" font-family='"Liberation Sans", sans-serif' font-size="31.60" fill="#000">10</text>
<text transform="translate(57.89,1108.20) scale(1.0450,1)" font-family='"Liberation Sans", sans-serif' font-size="31.60" fill="#000">12</text>
<text transform="translate(57.23,1071.25) scale(1.0450,1)" font-family='"Liberation Sans", sans-serif' font-size="31.60" fill="#000">14</text>
<text transform="translate(57.67,1034.30) scale(1.0450,1)" font-family='"Liberation Sans", sans-serif' font-size="31.60" fill="#000">16</text>
<text transform="translate(93.27,1347.70) scale(0.9750,1)" font-family='"Liberation Sans", sans-serif' font-size="34.20" fill="#000">0</text>
<text transform="translate(217.49,1347.70) scale(0.9750,1)" font-family='"Liberation Sans", sans-serif' font-size="34.20" fill="#000">50</text>
<text transform="translate(342.15,1347.70) scale(0.9750,1)" font-family='"Liberation Sans", sans-serif' font-size="34.20" fill="#000">100</text>
<text transform="translate(475.55,1347.70) scale(0.9750,1)" font-family='"Liberation Sans", sans-serif' font-size="34.20" fill="#000">150</text>
<text transform="translate(608.69,1347.70) scale(0.9750,1)" font-family='"Liberation Sans", sans-serif' font-size="34.20" fill="#000">200</text>
<text transform="translate(303.79,1379.58) scale(1.0338,1)" font-family='"Liberation Sans", sans-serif' font-size="33.23" fill="#000">Day of year</text>
<text transform="translate(46.30,1336.27) rotate(-90) scale(0.9900,1)" font-family='"Liberation Sans", sans-serif' font-size="31.65" fill="#000">Chlorophyll</text>
<text transform="translate(46.30,1169.33) rotate(-90) scale(0.9900,1)" font-family='"Liberation Sans", sans-serif' font-size="31.65" font-style="italic" fill="#000">a</text>
<text transform="translate(46.30,1143.88) rotate(-90) scale(0.9900,1)" font-family='"Liberation Sans", sans-serif' font-size="31.65" fill="#000">(mg m</text>
<text transform="translate(33.40,1054.16) rotate(-90) scale(0.9900,1)" font-family='"Liberation Sans", sans-serif' font-size="31.65" fill="#000">-</text>
<text transform="translate(33.40,1043.75) rotate(-90) scale(0.9900,1)" font-family='"Liberation Sans", sans-serif' font-size="31.65" fill="#000">3</text>
<text transform="translate(46.30,1024.41) rotate(-90) scale(0.9900,1)" font-family='"Liberation Sans", sans-serif' font-size="31.65" fill="#000">)</text>
</g>
<line x1="129.3" y1="88.2" x2="171.0" y2="88.2" stroke="#21b04e" stroke-width="3.0" stroke-linecap="round"/>
<line x1="129.3" y1="124.8" x2="171.0" y2="124.8" stroke="#19477f" stroke-width="2.8" stroke-linecap="round"/>
<line x1="130.0" y1="159.5" x2="171.0" y2="159.5" stroke="#0a0a0a" stroke-width="3.8" stroke-linecap="round"/>
<text transform="translate(180.54,98.33) scale(1.2513,1)" font-family='"Liberation Serif", serif' font-size="32.10" fill="#000">Labrador shelf</text>
<text transform="translate(177.91,135.93) scale(1.2645,1)" font-family='"Liberation Serif", serif' font-size="32.42" fill="#000">Central basin</text>
<text transform="translate(177.03,173.53) scale(1.2699,1)" font-family='"Liberation Serif", serif' font-size="31.82" fill="#000">Greenland shelf</text>
<text transform="translate(34.82,39.80) scale(0.8583,1)" font-family='"Liberation Sans", sans-serif' font-size="29.13" fill="#000">A</text>
<text transform="translate(815.34,39.90) scale(0.7760,1)" font-family='"Liberation Sans", sans-serif' font-size="28.69" fill="#000">B</text>
<line x1="1215.2" y1="68.4" x2="1215.2" y2="1146.7" stroke="#0a0a0a" stroke-width="2.8"/>
<line x1="1202.0" y1="68.4" x2="1227.4" y2="68.4" stroke="#0a0a0a" stroke-width="2.8"/>
<line x1="1202.9" y1="612.4" x2="1225.8" y2="612.4" stroke="#0a0a0a" stroke-width="2.8"/>
<line x1="1202.1" y1="1146.7" x2="1227.5" y2="1146.7" stroke="#0a0a0a" stroke-width="2.8"/>
<text transform="translate(1232.21,81.07) scale(1.4746,1)" font-family='"Liberation Serif", serif' font-size="52.61" fill="#000">0</text>
<text transform="translate(1231.21,622.27) scale(1.5071,1)" font-family='"Liberation Serif", serif' font-size="53.20" fill="#000">30</text>
<text transform="translate(1232.33,1157.06) scale(1.4610,1)" font-family='"Liberation Serif", serif' font-size="54.09" fill="#000">60</text>
<ellipse cx="1158.7" cy="69.8" rx="10.3" ry="10.6" fill="#272975"/>
<g stroke="#34b34a" stroke-width="5.0" fill="none"><line x1="990.5" y1="192.7" x2="990.5" y2="443.4" stroke-width="5.9"/><line x1="964.8" y1="192.7" x2="1016.5" y2="192.7"/><line x1="964.8" y1="443.4" x2="1016.5" y2="443.4"/></g>
<g stroke="#265228" stroke-width="5.0" fill="none"><line x1="1091.6" y1="284.7" x2="1091.6" y2="623.7" stroke-width="5.9"/><line x1="1065.4" y1="284.7" x2="1117.2" y2="284.7"/><line x1="1065.4" y1="623.7" x2="1117.2" y2="623.7"/></g>
<g stroke="#272975" stroke-width="5.0" fill="none"><line x1="1158.9" y1="717.5" x2="1158.9" y2="1002.5" stroke-width="5.9"/><line x1="1133.0" y1="717.5" x2="1184.7" y2="717.5"/><line x1="1133.0" y1="1002.5" x2="1184.7" y2="1002.5"/></g>
<text transform="translate(820.01,332.26) scale(1.4681,1)" font-family='"Liberation Serif", serif' font-size="54.09" fill="#34b34a">2015</text>
<text transform="translate(930.86,539.77) scale(1.4617,1)" font-family='"Liberation Serif", serif' font-size="53.50" fill="#265228">2014</text>
<text transform="translate(1006.11,873.91) scale(1.4679,1)" font-family='"Liberation Serif", serif' font-size="49.36" fill="#272975">2016</text>
<text transform="translate(1401.20,841.34) rotate(-90) scale(0.8863,1)" font-family='"Liberation Serif", serif' font-size="65.60" fill="#000">Days</text>
<text transform="translate(1401.20,702.80) rotate(-90) scale(0.8856,1)" font-family='"Liberation Serif", serif' font-size="65.60" fill="#000">before</text>
<text transform="translate(1401.20,537.83) rotate(-90) scale(0.9407,1)" font-family='"Liberation Serif", serif' font-size="65.60" fill="#000">peak</text>
</svg>
</body></html>
